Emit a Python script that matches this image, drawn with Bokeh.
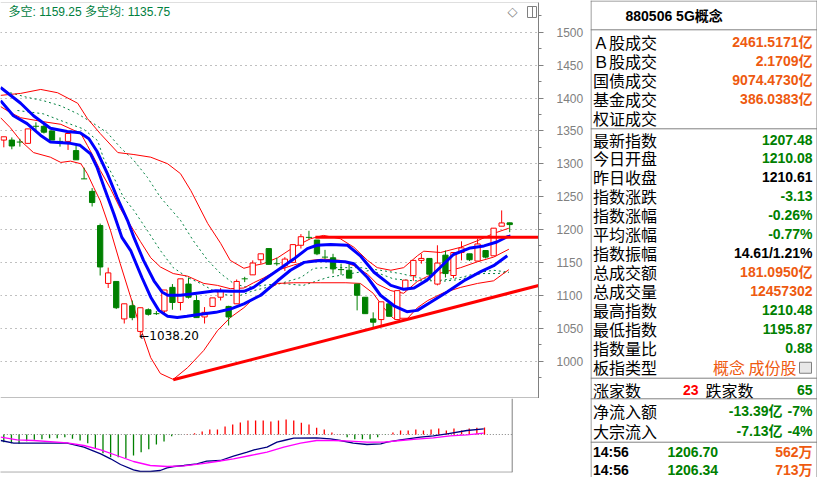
import numpy as np
from bokeh.plotting import figure
from bokeh.layouts import row, column
from bokeh.models import FixedTicker, ColumnDataSource, Range1d
from bokeh.core.properties import value
from bokeh.embed import file_html
from bokeh.resources import INLINE

# ---------------- data ----------------
opens  = [1336,1336,1333.5,1331,1357.5,1357,1350,1334.5,1334,1320,1277.5,1258,1206,1118,1121,1064,1084,1045,1078,1072.5,
          1076,1112,1089,1117,1092,1067,1083,1097,1083,1087,1125.5,1131,1154,1171,1148.5,1145,1150,1176,1188.5,1184,
          1158.5,1157,1139.5,1138,1117,1097,1064,1063,1087,1063,1109,1130,1153,1156,1117,1161,1130,1165,1163,1152,
          1168,1160,1205,1210.08]
highs  = [1341,1340,1338,1353,1363,1361,1350,1340,1346,1328,1294,1263,1209,1142,1121,1087,1092,1081,1080,1076,
          1108,1117,1125,1127,1100,1082,1096,1111,1084,1124,1128,1153,1163,1171,1157,1158,1177,1193,1198,1184,
          1169,1163,1148,1148,1117,1097,1074,1090,1090,1107,1123,1153,1163,1156,1176,1168,1165,1182,1163,1186,
          1168,1202,1229,1210.48]
lows   = [1325,1322,1326,1331,1350,1346,1336,1326,1321,1306,1277,1235,1130,1111,1079,1057,1062,1038.2,1069,1070,
          1071,1078,1077,1095,1066,1057,1083,1092,1054,1087,1120,1131,1148,1147,1145,1137,1150,1171,1185,1161,
          1155,1133,1131,1126,1077,1072,1051,1054,1068,1062,1107,1122,1148,1128,1115,1127,1126,1153,1152,1152,
          1156,1160,1205,1195.87]
closes = [1341,1327,1333,1353,1357,1348,1336,1334,1346,1306,1277,1241,1143,1134,1081,1087,1066,1081,1071,1072,
          1108,1089,1125,1097,1066,1074,1096,1107,1067,1121,1125,1149,1163,1147,1148,1155,1177,1189,1188,1163,
          1158,1140,1139,1126,1100,1072,1059,1090,1068,1107,1123,1153,1156,1132,1149,1133,1165,1172,1154,1178,
          1158,1202,1210,1207.48]

# indicator lines: (candle index, value)
blue_up_x = [-0.4,2.1,3.7,5.8,7.9,9.5,10.6,11.6,12.9,14.1,15.4,16.2,17.4,18.7,19.7,20.4,22.0,23.3,26.4,28.2,29.9,31.1,32.0,
             34.1,36.1,37.8,39.0,40.7,42.8,44.4,46.1,48.2,49.8,51.1,52.7,54.4,56.0,58.1,59.8,61.4,62.7,63.1]
blue_up_y = [1416,1392,1373,1354,1349,1347,1338,1319,1285,1249,1214,1188,1153,1122,1105,1100,1100,1102,1107,1106,1106,1112,1120,
             1138,1155,1171,1176,1177,1176,1160,1135,1115,1109,1111,1123,1143,1162,1172,1175,1181,1189,1190]
blue_dn_x = [-0.4,1.2,2.9,4.6,5.8,8.3,9.5,10.8,11.6,12.5,13.7,14.7,15.8,17.2,18.3,19.3,20.4,21.6,22.8,24.5,26.4,28.2,29.9,
             32.0,34.1,35.7,37.4,39.4,42.5,43.6,45.3,46.9,48.6,50.2,51.5,53.1,55.2,57.3,59.4,61.0,62.7]
blue_dn_y = [1396,1373,1361,1343,1333,1331,1328,1315,1295,1264,1224,1188,1168,1127,1097,1077,1068,1066,1068,1071,1074,1079,1087,
             1100,1122,1138,1150,1153,1151,1148,1127,1100,1084,1075,1077,1089,1105,1122,1136,1145,1160]
band_up_x = [-0.4,2.1,4.6,6.7,9.2,10.4,12.0,14.2,16.2,18.3,20.4,22.0,23.3,25.4,27.0,28.2,29.9,31.1,32.3,34.1,36.1,38.2,39.8,
             41.9,43.6,45.3,46.5,48.2,49.8,51.5,52.3,54.4,56.9,59.0,61.0,62.9]
band_up_y = [1404,1407,1413,1408,1392,1369,1346,1317,1314,1310,1300,1285,1259,1209,1179,1153,1141,1145,1148,1157,1173,1186,1191,
             1186,1173,1153,1142,1138,1142,1160,1167,1165,1173,1183,1194,1202]
band_mid_x = [-0.4,0.8,2.1,4.9,7.1,9.6,10.4,11.2,12.0,13.3,14.5,15.8,17.0,18.3,19.5,21.1,22.9,24.9,26.6,28.2,29.9,31.1,32.3,
              34.1,36.1,38.2,39.8,41.9,43.6,45.3,46.5,48.2,49.8,51.5,52.8,54.8,56.9,59.0,61.0,62.9]
band_mid_y = [1387,1378,1370,1364,1360,1346,1328,1310,1290,1262,1232,1206,1182,1157,1143,1133,1129,1118,1115,1110,1111,1119,1126,
              1138,1146,1153,1155,1153,1145,1132,1117,1107,1103,1121,1129,1135,1142,1151,1158,1170]
band_dn_x = [-0.4,0.8,2.1,3.7,5.8,7.1,8.3,9.6,10.4,11.2,12.0,13.3,14.5,15.8,17.0,18.3,19.5,21.1,22.9,24.9,26.6,28.2,29.9,31.1,
             32.3,34.1,36.1,39.4,42.6,44.4,46.0,47.3,48.5,50.3,51.5,52.8,54.8,56.9,59.0,61.0,62.9]
band_dn_y = [1370,1355,1335,1317,1310,1302,1304,1300,1285,1264,1244,1198,1148,1097,1051,1005,981,972,990,1016,1046,1066,1081,1095,
             1104,1118,1119,1119,1119,1118,1103,1081,1065,1065,1081,1092,1104,1112,1118,1122,1139]
green1_x = [0.8,2.9,4.9,7.1,9.2,11.2,12.9,14.5,16.2,17.9,19.5,22.0,23.6,25.4,27.0,28.6,30.3,32.3,34.5,37.0,38.6,40.3,44.4,
            46.9,49.4,51.9,54.4,56.9,59.4,61.5,62.9]
green1_y = [1408,1401,1396,1388,1376,1361,1347,1325,1305,1279,1249,1214,1183,1153,1133,1118,1112,1115,1118,1127,1141,1142,1142,
            1138,1133,1126,1121,1124,1133,1133,1135]
green2_x = [1.7,4.9,7.9,9.9,11.7,12.4,13.7,14.9,16.2,17.9,19.5,21.1,22.9,24.5,26.1,27.9,29.5,31.1,32.8,34.5,37.3,40.3,45.7,
            48.5,51.0,54.0,56.9,59.4,61.0,62.9]
green2_y = [1381,1376,1362,1353,1335,1309,1279,1249,1229,1198,1168,1142,1127,1118,1107,1100,1100,1107,1112,1118,1115,1127,1138,
            1125,1122,1122,1127,1135,1138,1135]

trend_h_x = [38.8, 66.6]
trend_h_y = [1188.3, 1188.3]
trend_up_x = [21.1, 66.6]
trend_up_y = [971.4, 1114.8]

price_ticks = [1000,1050,1100,1150,1200,1250,1300,1350,1400,1450,1500]

macd_bar = [-7.7,-8.7,-9.3,-6.7,-5.3,-4.7,-3.7,-3.7,-2.7,-4.3,-6,-8.7,-14.3,-18.7,-22.7,-22.7,-23.7,-21,-17.7,-14.7,
            -10,-7,-1.7,-0.3,0.2,1.3,3,5,5,8,10,12,14,14,14,13,14,15,14,11.7,
            10,6.7,5,2,0.3,-2.7,-4.7,-4.7,-4.7,-2.7,-0.3,2,4,4,5,4,5,6,4,6,4,6,6.7,7]
dif_x = [-0.4,1.3,3.9,8.3,10.5,12.7,14.0,15.3,17.0,17.9,19.2,20.5,21.4,22.3,23.6,25.3,26.6,28.4,30.1,31.9,32.8,34.5,35.8,
         36.7,38.0,41.0,42.8,44.1,45.8,47.6,49.4,50.2,52.0,54.6,56.3,58.1,60.7,62.9]
dif_y = [-6,-8.7,-8.7,-8.7,-12.7,-19.3,-24.3,-30,-35.3,-37,-37,-36,-33.3,-32,-31,-29.3,-26.7,-26,-21.7,-17.7,-15.3,-12.7,-7.7,
         -6,-3.7,-3.3,-4.3,-6,-8.7,-10,-9.3,-7.7,-5.3,-2.7,-1.3,0.7,4,5.7]
dea_x = [-0.4,1.75,3.9,8.3,10.5,12.7,14.8,17.0,19.2,21.4,23.6,25.8,27.9,30.1,32.3,34.5,36.7,38.9,41.0,43.2,45.4,47.6,49.8,
         52.0,54.1,56.3,58.5,60.7,62.9]
dea_y = [-2.7,-5.3,-6,-8.3,-11,-15.3,-21,-27,-31,-32,-31.3,-29.3,-27,-24.3,-21,-17.7,-12.7,-8.7,-6,-6,-6.7,-7.7,-7.7,
         -6,-4.7,-3.3,-1.3,-0.3,1.3]

# ---------------- styles ----------------
RED = "#FF0000"; GREEN = "#008000"; BLUE = "#0000FF"; GRAY = "#808080"
ORANGE = "#EE5A10"; DASHG = "#008040"

def px_x(x):
    return (x - 3.3) / 8.03

def px_y(y):
    return 1000 + (360.5 - y) / 0.6575

# ---------------- main price figure ----------------
p = figure(width=590, height=398, output_backend="svg", toolbar_location=None,
           x_range=Range1d(px_x(0), px_x(538)), y_range=Range1d(px_y(398), px_y(2)),
           y_axis_location="right", min_border_left=0, min_border_right=52,
           min_border_top=2, min_border_bottom=0)
p.xaxis.visible = False
p.xgrid.visible = False
p.background_fill_color = "white"
p.border_fill_color = "white"
p.outline_line_color = None
ax = p.yaxis[0]
ax.ticker = FixedTicker(ticks=price_ticks, minor_ticks=[t + 25 for t in price_ticks] + [975])
ax.axis_line_color = GRAY
ax.major_tick_line_color = GRAY
ax.minor_tick_line_color = GRAY
ax.major_tick_out = 5
ax.major_tick_in = 0
ax.minor_tick_out = 3
ax.minor_tick_in = 0
ax.major_label_standoff = 13
ax.major_label_text_color = GRAY
ax.major_label_text_font = "Liberation Sans"
ax.major_label_text_font_size = "12px"
p.ygrid.ticker = FixedTicker(ticks=price_ticks)
p.ygrid.grid_line_color = GRAY
p.ygrid.grid_line_dash = "1 4"

idx = np.arange(len(opens))
o = np.array(opens, float); c = np.array(closes, float)
h = np.array(highs, float); l = np.array(lows, float)
up = c > o
doji = np.abs(c - o) < 1.0
top = np.maximum(o, c); bot = np.minimum(o, c)

# bands and lines
p.line(green1_x, green1_y, color=DASHG, line_width=1, line_dash="2 3")
p.line(green2_x, green2_y, color=DASHG, line_width=1, line_dash="2 3")
p.line(band_up_x, band_up_y, color=RED, line_width=1)
p.line(band_mid_x, band_mid_y, color=RED, line_width=1)
p.line(band_dn_x, band_dn_y, color=RED, line_width=1)

# candles
col = np.where(up, RED, GREEN)
src = ColumnDataSource(dict(x=idx, o=o, c=c, h=h, l=l, top=top, bot=bot, col=col))
p.segment(x0="x", y0="h", x1="x", y1="l", color="col", line_width=1, source=src)
nd = ~doji
src_up = ColumnDataSource(dict(x=idx[nd & up], top=top[nd & up], bot=bot[nd & up]))
src_dn = ColumnDataSource(dict(x=idx[nd & ~up], top=top[nd & ~up], bot=bot[nd & ~up]))
p.vbar(x="x", top="top", bottom="bot", width=0.66, fill_color="white", line_color=RED, line_width=1, source=src_up)
p.vbar(x="x", top="top", bottom="bot", width=0.66, fill_color=GREEN, line_color=GREEN, line_width=1, source=src_dn)
dj = ColumnDataSource(dict(x0=idx[doji] - 0.38, x1=idx[doji] + 0.38, y=c[doji]))
p.segment(x0="x0", y0="y", x1="x1", y1="y", color=GREEN, line_width=1, source=dj)

p.line(blue_up_x, blue_up_y, color=BLUE, line_width=3)
p.line(blue_dn_x, blue_dn_y, color=BLUE, line_width=3)

p.line(trend_h_x, trend_h_y, color=RED, line_width=3)
p.line(trend_up_x, trend_up_y, color=RED, line_width=3)

# frame lines (top and bottom only)
p.segment(x0=[px_x(0), px_x(0)], x1=[px_x(538), px_x(538)], y0=[px_y(1.5), px_y(397.5)], y1=[px_y(1.5), px_y(397.5)],
          color=GRAY, line_width=1)

# low annotation
lo_i = int(np.argmin(l))
p.text(x=[lo_i], y=[l[lo_i]], text=["←%.2f" % l[lo_i]], text_font=value("DejaVu Sans"),
       text_font_size="12px", text_color="black", text_baseline="middle", text_align="left", x_offset=-1)

# header text
p.text(x=[px_x(8)], y=[px_y(11)], text=["多空: 1159.25 多空均: 1135.75"],
       text_font=value("Liberation Sans, Noto Sans CJK SC"), text_font_size="12px",
       text_color=DASHG, text_baseline="middle", text_align="left")
p.text(x=[px_x(512)], y=[px_y(11)], text=["◇"], text_font=value("DejaVu Sans"), text_font_size="13px",
       text_color=GRAY, text_baseline="middle", text_align="center")
p.quad(left=[px_x(527)], right=[px_x(536)], top=[px_y(6)], bottom=[px_y(17)], fill_color=None, line_color=GRAY)
p.segment(x0=[px_x(532)], x1=[px_x(532)], y0=[px_y(6)], y1=[px_y(17)], color=GRAY)

# ---------------- MACD figure ----------------
m = figure(width=590, height=79, output_backend="svg", toolbar_location=None,
           x_range=Range1d(-3.3 / 7.63, (538 - 3.3) / 7.63), y_range=Range1d(-38, 36),
           min_border_left=0, min_border_right=52, min_border_top=0, min_border_bottom=5)
m.axis.visible = False
m.grid.visible = False
m.outline_line_color = None
mx = np.arange(len(macd_bar))
mb = np.array(macd_bar)
xr = (511.7 - 3.3) / 7.63
m.segment(x0=[0], x1=[xr], y0=[0], y1=[0], color=GRAY, line_dash="1 2")
m.segment(x0=mx, x1=mx, y0=np.zeros(len(mb)), y1=mb, color=np.where(mb >= 0, RED, GREEN).tolist(), line_width=1.3)
m.line(dif_x, dif_y, color="#000080", line_width=1.3)
m.line(dea_x, dea_y, color="#FF00FF", line_width=1.3)
m.segment(x0=[xr], x1=[xr], y0=[-38], y1=[36], color=GRAY)
m.segment(x0=[-0.5], x1=[xr], y0=[-37.7], y1=[-37.7], color=GRAY)

# ---------------- info panel ----------------
labels_top = ["Ａ股成交", "Ｂ股成交", "国债成交", "基金成交", "权证成交"]
values_top = ["2461.5171亿", "2.1709亿", "9074.4730亿", "386.0383亿", ""]
labels_mid = ["最新指数", "今日开盘", "昨日收盘", "指数涨跌", "指数涨幅", "平均涨幅", "指数振幅",
              "总成交额", "总成交量", "最高指数", "最低指数", "指数量比", "板指类型"]
values_mid = ["1207.48", "1210.08", "1210.61", "-3.13", "-0.26%", "-0.77%", "14.61/1.21%",
              "181.0950亿", "12457302", "1210.48", "1195.87", "0.88", ""]
colors_mid = [GREEN, GREEN, "black", GREEN, GREEN, GREEN, "black", ORANGE, ORANGE, GREEN, GREEN, GREEN, ORANGE]
board_type = "概念 成份股"
up_count, down_count = "23", "65"
flows = [("净流入额", "-13.39亿", "-7%"), ("大宗流入", "-7.13亿", "-4%")]
ticks_rows = [("14:56", "1206.70", "562万"), ("14:56", "1206.34", "713万")]

q = figure(width=227, height=477, output_backend="svg", toolbar_location=None,
           x_range=Range1d(0, 227), y_range=Range1d(477, 0), min_border=0)
q.axis.visible = False
q.grid.visible = False
q.outline_line_color = None
CJK = value("Noto Sans CJK SC")
NUM = value("Liberation Sans, Noto Sans CJK SC")

q.text(x=[35], y=[15], text=["880506 5G概念"], text_font=NUM, text_font_size="14px", text_font_style="bold",
       text_color="black", text_baseline="middle")
ys_top = [41.7 + 18.9 * k for k in range(len(labels_top))]
q.text(x=[2.5] * len(labels_top), y=ys_top, text=labels_top, text_font=CJK, text_font_size="16px",
       text_color="black", text_baseline="middle")
q.text(x=[222] * len(values_top), y=ys_top, text=values_top, text_font=NUM, text_font_size="14px",
       text_font_style="bold", text_color=ORANGE, text_baseline="middle", text_align="right")
ys_mid = [139 + 18.98 * k for k in range(len(labels_mid))]
q.text(x=[2.5] * len(labels_mid), y=ys_mid, text=labels_mid, text_font=CJK, text_font_size="16px",
       text_color="black", text_baseline="middle")
q.text(x=[222] * len(values_mid), y=ys_mid, text=values_mid, text_font=NUM, text_font_size="14px",
       text_font_style="bold", text_color=colors_mid, text_baseline="middle", text_align="right")
q.text(x=[206], y=[ys_mid[-1]], text=[board_type], text_font=CJK, text_font_size="16px",
       text_color=ORANGE, text_baseline="middle", text_align="right")
q.quad(left=[209], right=[221], top=[ys_mid[-1] - 5], bottom=[ys_mid[-1] + 6], fill_color="#E8E8E8", line_color=GRAY)

yr = 389.3
q.text(x=[2.5, 115], y=[yr, yr], text=["涨家数", "跌家数"], text_font=CJK, text_font_size="16px",
       text_color="black", text_baseline="middle")
q.text(x=[108], y=[yr], text=[up_count], text_font=NUM, text_font_size="14px", text_font_style="bold",
       text_color=RED, text_baseline="middle", text_align="right")
q.text(x=[222], y=[yr], text=[down_count], text_font=NUM, text_font_size="14px", text_font_style="bold",
       text_color=GREEN, text_baseline="middle", text_align="right")

ys_f = [410.7, 430]
q.text(x=[2.5, 2.5], y=ys_f, text=[f[0] for f in flows], text_font=CJK, text_font_size="16px",
       text_color="black", text_baseline="middle")
q.text(x=[192, 192], y=ys_f, text=[f[1] for f in flows], text_font=NUM, text_font_size="14px",
       text_font_style="bold", text_color=GREEN, text_baseline="middle", text_align="right")
q.text(x=[222, 222], y=ys_f, text=[f[2] for f in flows], text_font=NUM, text_font_size="14px",
       text_font_style="bold", text_color=GREEN, text_baseline="middle", text_align="right")

ys_t = [451.7, 469.3]
q.text(x=[2.5, 2.5], y=ys_t, text=[t[0] for t in ticks_rows], text_font=NUM, text_font_size="14px",
       text_font_style="bold", text_color="black", text_baseline="middle")
q.text(x=[77, 77], y=ys_t, text=[t[1] for t in ticks_rows], text_font=NUM, text_font_size="14px",
       text_font_style="bold", text_color=GREEN, text_baseline="middle")
q.text(x=[222, 222], y=ys_t, text=[t[2] for t in ticks_rows], text_font=NUM, text_font_size="14px",
       text_font_style="bold", text_color=ORANGE, text_baseline="middle", text_align="right")

hl = [0.5, 29.3, 128.3, 377.7, 398.3, 441.7]
q.segment(x0=[0] * len(hl), x1=[227] * len(hl), y0=hl, y1=hl, color=GRAY, line_width=1)
q.segment(x0=[0.5, 226.5], x1=[0.5, 226.5], y0=[0, 0], y1=[477, 477], color=GRAY, line_width=1)

layout = row(column(p, m, spacing=0), q, spacing=0)
open("out.html", "w").write(file_html(layout, INLINE))
